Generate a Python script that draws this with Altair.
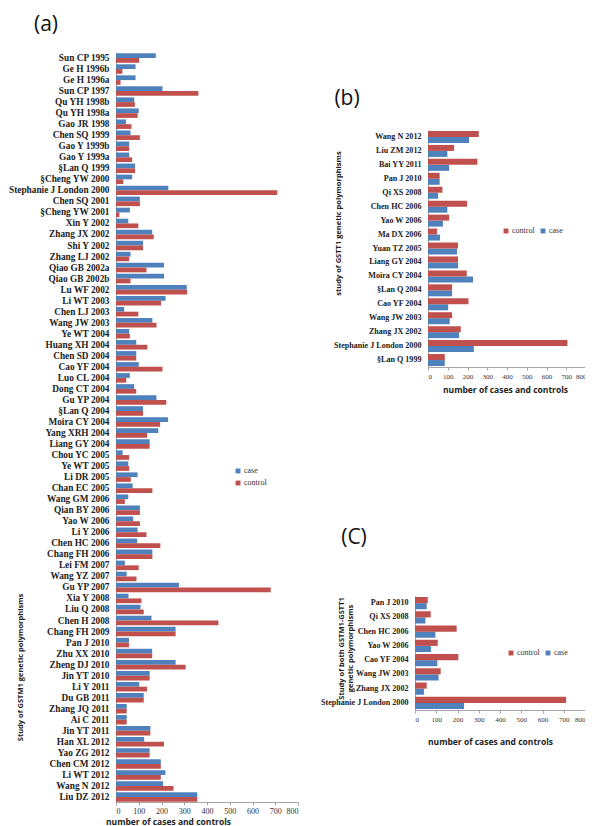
import altair as alt
import pandas as pd

# ---------------- data ----------------
a_studies = [
    "Sun CP 1995", "Ge H 1996b", "Ge H 1996a", "Sun CP 1997", "Qu YH 1998b", "Qu YH 1998a",
    "Gao JR  1998", "Chen SQ 1999", "Gao Y 1999b", "Gao Y 1999a", "§Lan Q 1999", "§Cheng YW 2000",
    "Stephanie J London 2000", "Chen SQ 2001", "§Cheng YW 2001", "Xin Y 2002", "Zhang JX 2002",
    "Shi Y 2002", "Zhang LJ 2002", "Qiao GB 2002a", "Qiao GB 2002b", "Lu WF 2002", "Li WT 2003",
    "Chen LJ 2003", "Wang JW 2003", "Ye WT 2004", "Huang XH 2004", "Chen SD 2004", "Cao YF 2004",
    "Luo CL 2004", "Dong CT 2004", "Gu YP 2004", "§Lan Q 2004", "Moira CY 2004", "Yang XRH 2004",
    "Liang GY 2004", "Chou YC 2005", "Ye WT 2005", "Li DR 2005", "Chan EC 2005", "Wang GM 2006",
    "Qian BY 2006", "Yao W 2006", "Li Y 2006", "Chen HC 2006", "Chang FH 2006", "Lei FM 2007",
    "Wang YZ 2007", "Gu YP 2007", "Xia Y 2008", "Liu Q 2008", "Chen H 2008", "Chang FH 2009",
    "Pan J 2010", "Zhu XX 2010", "Zheng DJ 2010", "Jin YT 2010", "Li Y 2011", "Du GB 2011",
    "Zhang JQ 2011", "Ai C 2011", "Jin YT 2011", "Han XL 2012", "Yao ZG 2012", "Chen CM 2012",
    "Li WT 2012", "Wang N 2012", "Liu DZ 2012",
]
a_case = [
    175, 86, 86, 204, 80, 100, 44, 64, 58, 58, 84, 71, 230, 105, 61, 54, 159, 119, 64, 211,
    211, 311, 218, 36, 160, 58, 89, 89, 100, 61, 80, 178, 119, 229, 186, 148, 29, 54, 95, 73,
    54, 105, 76, 95, 93, 160, 39, 47, 277, 55, 108, 156, 262, 57, 159, 262, 148, 102, 122, 47,
    47, 151, 124, 148, 197, 217, 207, 357,
]
a_control = [
    102, 28, 20, 362, 83, 95, 68, 105, 58, 71, 84, 32, 709, 105, 15, 98, 166, 119, 58, 134,
    64, 313, 198, 98, 178, 61, 138, 89, 204, 45, 89, 221, 119, 194, 137, 148, 58, 58, 65, 160,
    39, 105, 105, 134, 195, 160, 100, 90, 680, 112, 122, 450, 262, 57, 159, 306, 148, 137, 122, 47,
    47, 151, 211, 148, 197, 197, 253, 357,
]

b_studies = [
    "Wang N 2012", "Liu ZM 2012", "Bai YY 2011", "Pan J 2010", "Qi XS 2008", "Chen HC 2006",
    "Yao W 2006", "Ma DX 2006", "Yuan TZ 2005", "Liang GY 2004", "Moira CY 2004", "§Lan Q 2004",
    "Cao YF 2004", "Wang JW 2003", "Zhang JX 2002", "Stephanie J London 2000", "§Lan Q 1999",
]
b_control = [257, 132, 250, 59, 73, 198, 107, 46, 152, 152, 196, 122, 205, 122, 166, 706, 85]
b_case = [208, 98, 107, 59, 51, 98, 76, 61, 147, 152, 228, 122, 102, 110, 157, 232, 85]

c_studies = [
    "Pan J 2010", "Qi XS 2008", "Chen HC 2006", "Yao W 2006", "Cao YF 2004", "Wang JW 2003",
    "Zhang JX 2002", "Stephanie J London 2000",
]
c_control = [60, 74, 196, 107, 204, 121, 55, 711]
c_case = [55, 49, 96, 75, 105, 111, 42, 231]

x_ticks = [0, 100, 200, 300, 400, 500, 600, 700, 800]
panel_tags = ["(a)", "(b)", "(C)"]

# ---------------- styling ----------------
BLUE = "#4F81BD"
RED = "#C0504D"
W, H = 577, 818
LBL_FONT = "Liberation Serif"
TTL_FONT = "Open Sans"
AXIS_GRAY = "#A6A6A6"


def long(studies, case, control):
    rows = []
    for s, c, k in zip(studies, case, control):
        rows.append({"study": s, "group": "case", "n": c})
        rows.append({"study": s, "group": "control", "n": k})
    return pd.DataFrame(rows)


def panel(df, studies, y_range, x_range, x_axis_y, y_axis_x, group_order,
          y_title, y_title_x, y_title_y, x_title_x, x_title_y, legend, lbl_size, tick_size):
    x = alt.X(
        "n:Q",
        scale=alt.Scale(domain=[0, 800], range=x_range, nice=False),
        axis=alt.Axis(
            orient="bottom", offset=x_axis_y - H, values=x_ticks, grid=False,
            domainColor=AXIS_GRAY, tickColor=AXIS_GRAY, tickSize=3,
            labelFont=LBL_FONT, labelFontSize=tick_size, labelColor="#333", labelPadding=2,
            title="number of cases and controls", titleFont=TTL_FONT, titleFontSize=8.5,
            titleFontWeight="bold", titleColor="#222", titleX=x_title_x, titleY=x_title_y,
            titleAlign="center", titleBaseline="middle", titleAngle=0,
        ),
    )
    y = alt.Y(
        "study:N",
        sort=studies,
        scale=alt.Scale(domain=studies, range=y_range, paddingInner=0.14, paddingOuter=0.07),
        axis=alt.Axis(
            orient="left", offset=-y_axis_x, grid=False, ticks=False,
            domainColor=AXIS_GRAY, labelFont=LBL_FONT, labelFontSize=lbl_size, labelColor="#222",
            labelPadding=7, labelFontWeight="bold",
            title=y_title, titleFont=TTL_FONT, titleFontSize=7.5, titleFontWeight="bold",
            titleColor="#222", titleAngle=-90, titleX=y_title_x, titleY=y_title_y,
            titleAlign="center", titleBaseline="middle",
        ),
    )
    return alt.Chart(df).mark_bar().encode(
        x=x,
        y=y,
        yOffset=alt.YOffset("group:N", scale=alt.Scale(domain=group_order)),
        color=alt.Color(
            "group:N",
            scale=alt.Scale(domain=group_order, range=[BLUE if g == "case" else RED for g in group_order]),
            legend=legend,
        ),
    )


def legend(lx, ly, direction):
    return alt.Legend(orient="none", legendX=lx, legendY=ly, direction=direction, title=None,
                      symbolType="square", symbolSize=24, symbolStrokeWidth=0, labelFont=LBL_FONT,
                      labelFontSize=8, labelFontStyle="normal", labelColor="#333",
                      rowPadding=4, columnPadding=4, labelOffset=2)


pa = panel(long(a_studies, a_case, a_control), a_studies, [44.5, 794.5], [108, 290], 794, 108,
           ["case", "control"], "Study of GSTM1 genetic polymorphisms", -96, 659, 160, 19,
           legend(226, 459, "vertical"), 9.3, 8)
pb = panel(long(b_studies, b_case, b_control), b_studies, [122, 359], [420, 578], 359, 420,
           ["control", "case"], "study of GSTT1 genetic polymorphisms", -90, 215, 497, 22,
           legend(494, 219, "horizontal"), 8.1, 7)
pc = panel(long(c_studies, c_case, c_control), c_studies, [588, 702], [407, 577], 702, 407,
           ["control", "case"], ["Study of both GSTM1-GSTT1", "genetic polymorphisms"], -74, 640,
           482, 31, legend(499, 641, "horizontal"), 8.1, 7)


def tag(text, px, py):
    return alt.Chart(pd.DataFrame({"t": [text]})).mark_text(
        font=TTL_FONT, fontSize=21, color="#111", align="center", baseline="middle"
    ).encode(text="t:N", x=alt.value(px), y=alt.value(py))


chart = alt.layer(
    pa, pb, pc,
    tag(panel_tags[0], 38, 17),
    tag(panel_tags[1], 339, 91),
    tag(panel_tags[2], 346, 530),
).resolve_scale(
    x="independent", y="independent", yOffset="independent", color="independent"
).resolve_axis(
    x="independent", y="independent"
).resolve_legend(
    color="independent"
).properties(
    width=W, height=H, padding=0, autosize=alt.AutoSizeParams(type="none"), background="white"
).configure_view(stroke=None)

chart.save("out.html", embed_options={"renderer": "svg", "actions": False})
